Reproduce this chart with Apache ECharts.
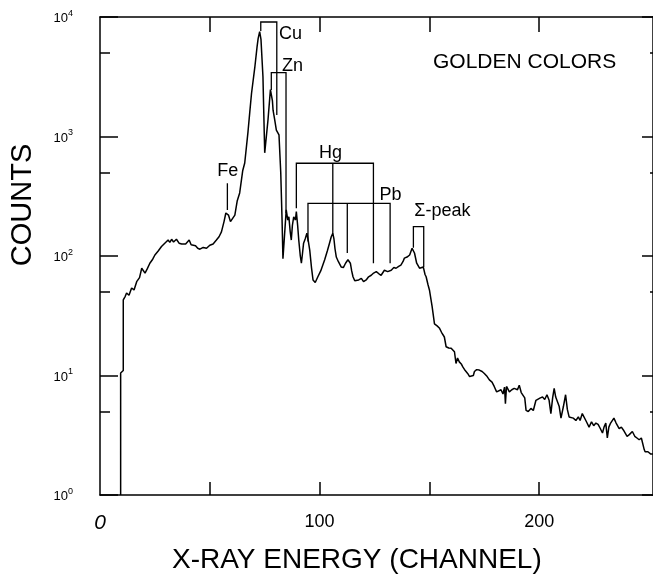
<!DOCTYPE html>
<html><head><meta charset="utf-8">
<script src="https://cdn.jsdelivr.net/npm/echarts@6/dist/echarts.min.js"></script>
<style>html,body{margin:0;padding:0;background:#fff}#c{width:653px;height:574px}</style>
</head><body><div id="c"></div><script>
// ---- spectrum data: [channel, counts] ----
const spectrumLow = [
 [9.4,1],[9.4,10.5],[10.6,11],[10.6,43],[11.5,46],[12.1,49],[13.2,47],[14.4,54],[15.5,52],[16.7,61],
 [18,66],[19,79],[20.5,72],[21.5,78],[22.7,87],[24,94],[25,102],[26.5,110],[28,120],[29.5,128],
 [31,136],[31.8,130],[32.6,138],[33.5,131],[34.8,138],[36,128],[37.2,126],[37.9,123],[39,126],[40.6,136],
 [41.5,124],[42.4,120],[43.5,122],[44.5,116],[45.5,114],[47,118],[48.5,116],[50,123],[51.5,126],[53,136],
 [54.2,145],[55.3,159],[56.5,195],[57.3,229],[57.8,235],[58.5,220],[59.4,194],[60.3,198]
];
const spectrumPeaks = [
 [61.4,220],[62.5,290],[63.6,337],[65,520],[65.9,600],[67.4,1100],[68.2,1600],[69,2300],[70.5,3800],[71.5,5600],
 [72,6600],[72.7,7550],[73.3,6500],[73.8,4350],[74.2,3160],[74.6,1500],[75,730],[75.6,740],[76.5,1380],[77.2,2000],
 [77.6,2470],[78,2560],[78.5,2000],[78.8,1660],[79.5,1400],[80.3,1130],[81.5,1030],[82.3,500],[82.9,200],[83.3,95],
 [83.8,95],[84.8,243],[85.5,200],[86,213],[86.6,160],[87.1,136],[87.6,180],[88.2,213],[89,200],[89.4,235],
 [90,180],[90.5,136],[91.2,100],[91.7,87],[92.2,105],[92.7,128],[93.5,140],[94.2,155],[94.8,135],[95.5,112],
 [96.3,80],[97,63],[98,60],[99.2,67]
];
const spectrumMid = [
 [100.5,75],[102.3,93],[103.5,110],[104.5,128],[105.3,145],[106,155],[106.5,140],[107,115],[107.6,98],[108.5,90],
 [109.8,81],[110.8,80],[111.8,87],[112.9,93],[113.5,95],[114,87],[114.6,75],[115.2,67],[116,62],[116.7,61],
 [117.8,63],[119,65],[120,61],[121.2,63],[122.3,67],[123.5,69],[124.6,72],[125.8,74],[127,71],[128,69],
 [129.5,76],[131,74],[132.6,76],[133.8,80],[134.8,79],[136,82],[137,84],[138,90],[138.6,96],[139.8,98],
 [141,102],[142.1,116],[142.7,117],[143.2,106],[144.2,87],[145.5,79],[146.3,78],[147.2,81],[148,70],[148.5,67],
 [149.3,58],[150,52]
];
const spectrumTail = [
 [151.2,38],[152.3,27],[153.5,26],[154.5,25],[155.5,23],[156.8,21],[157.6,17.4],[158.8,17],[159.9,16.9],[161.4,15.8],
 [162.1,12.6],[162.8,14],[163.6,13],[164.5,12.5],[165.2,11.8],[166.3,11],[167.4,10.4],[168.3,9.8],[169,9.5],[170,10],
 [170.5,10.8],[171.5,11.2],[172.7,11.1],[174,10.8],[175,10.4],[176.3,9.8],[177.3,9.2],[178.5,8.8],[179.5,8.1],[180.6,7.3],
 [181.5,7.5],[182.6,7.6],[183.5,7.0],[184.2,8.0],[184.6,5.8],[185.1,8.1],[186.4,7.3],[187.5,7.6],[188.6,7.8],[189.4,8.1],
 [190.1,7.6],[190.9,8.3],[191.8,7.2],[192.6,7.1],[193.4,6.5],[194,5.1],[195,5.0],[196.2,5.3],[197.3,5.1],[198.5,6.2],
 [199.2,6.4],[200.5,6.5],[201.5,6.6],[202.5,6.3],[203.5,6.9],[204.5,6.2],[205.3,4.8],[206.1,6.5],[206.8,7.8],[207.5,6.6],
 [208.3,6.6],[209.1,5.5],[209.9,4.4],[211,5.5],[212,6.9],[212.8,5.2],[213.6,4.5],[214.5,4.6],[215.5,4.4],[216.7,4.2],
 [217.8,4.5],[218.6,4.2],[219.6,4.8],[220.5,4.7],[221.5,4.1],[222.7,3.7],[223.8,4.1],[224.8,3.8],[225.8,4.0],[226.8,3.9],
 [227.8,3.6],[228.8,3.3],[229.5,3.7],[230.3,4.0],[231,3.0],[231.7,3.7],[232.5,4.0],[234,4.4],[235,4.0],[236.4,3.6],
 [237.4,3.7],[238.3,3.5],[239.2,3.4],[240,3.1],[241,3.2],[242.4,3.4],[243.5,3.1],[244.5,3.0],[245.5,2.9],[246.5,3.0],
 [247.3,3.0],[247.8,2.4],[248.2,2.3],[249.5,2.3],[250.8,2.2],[251.8,2.2]
];

// ---- peak annotations (data coordinates) ----
const bracketNames = ['Cu','Zn','Hg','Pb','Σ-peak'];
const bracketTops  = [9080, 3420, 597, 276, 176];
const bracketLines = [
 [[73.2,7640],[80.5,1515]],
 [[78.0,2450],[84.7,229]],
 [[89.4,251],[106.0,155],[124.5,87]],
 [[94.7,132],[112.6,106],[132.1,87]],
 [[142.7,117],[147.4,81]]
];
const feLine = [[58.0,243],[58.0,407]];

const labelNames = ['Fe','Cu','Zn','Hg','Pb','Σ-peak'];
const labelX = [58.2, 86.8, 87.7, 105, 132.3, 155.9];
const labelY = [514, 7210, 3890, 728, 324, 238];

// ---- axes ----
const yTickValues = [1,10,100,1000,10000];
const yMinorValues = [5,50,500,5000];
const xTickValues = [50,100,150,200];
const xLabelValues = [0,100,200];
const xMax = 251.8;

const spectrum = spectrumLow.concat(spectrumPeaks, spectrumMid, spectrumTail);

const paths = [];
bracketLines.forEach((ls, i) => {
  const top = bracketTops[i];
  const first = ls[0], last = ls[ls.length-1];
  paths.push([[first[0], first[1]], [first[0], top], [last[0], top], [last[0], last[1]]]);
  for (let k = 1; k < ls.length-1; k++) paths.push([[ls[k][0], top], [ls[k][0], ls[k][1]]]);
});
paths.push(feLine);

const labelData = labelNames.map((n,i)=>[labelX[i], labelY[i], n]);

const FONT = '"Liberation Sans", Arial, sans-serif';
const black = '#000';
const lineSt = {color: black, width: 1.5};

function yAxisBase(pos, tickVals, len, showLine, showLabel){
  return {
    type:'log', logBase:10, min:1, max:10000, position:pos,
    axisLine:{show:showLine, lineStyle:lineSt},
    axisTick:{show:true, inside:true, length:len, customValues:tickVals, lineStyle:lineSt},
    axisLabel:{show:showLabel, customValues:yTickValues, margin:27, color:black, fontFamily:FONT,
      formatter: v => '{b|10}{s|' + Math.round(Math.log10(v)) + '}',
      rich:{
        b:{fontSize:13, lineHeight:16, verticalAlign:'bottom', fontFamily:FONT, color:black},
        s:{fontSize:9, lineHeight:9, verticalAlign:'top', fontFamily:FONT, color:black}
      }},
    splitLine:{show:false}, minorTick:{show:false}
  };
}

const chart = echarts.init(document.getElementById('c'), null, {renderer:'canvas'});
chart.setOption({
  animation:false,
  backgroundColor:'#fff',
  grid:{left:100, top:17, width:554, height:478, containLabel:false},
  xAxis:[
    {type:'value', position:'bottom', min:0, max:xMax, interval:50,
     axisLine:{show:true, onZero:false, lineStyle:lineSt},
     axisTick:{show:true, inside:true, length:13, customValues:xTickValues, lineStyle:lineSt},
     axisLabel:{show:true, margin:18, customValues:xLabelValues, color:black, fontFamily:FONT,
       formatter: v => v===0 ? '{z|0}' : '{n|'+v+'}',
       rich:{z:{fontSize:21, fontStyle:'italic', fontFamily:FONT, color:black},
             n:{fontSize:18, fontFamily:FONT, color:black}}},
     splitLine:{show:false}},
    {type:'value', position:'top', min:0, max:xMax, interval:50,
     axisLine:{show:true, onZero:false, lineStyle:lineSt},
     axisTick:{show:true, inside:true, length:15, customValues:xTickValues, lineStyle:lineSt},
     axisLabel:{show:false}, splitLine:{show:false}}
  ],
  yAxis:[
    yAxisBase('left', yTickValues, 18, true, true),
    yAxisBase('left', yMinorValues, 10, false, false),
    yAxisBase('right', yTickValues, 11, true, false),
    yAxisBase('right', yMinorValues, 3, false, false)
  ],
  series:[
    {type:'line', xAxisIndex:0, yAxisIndex:0, data:spectrum, symbol:'none', silent:true,
     lineStyle:{color:black, width:1.5}, z:3},
    {type:'lines', coordinateSystem:'cartesian2d', xAxisIndex:0, yAxisIndex:0, polyline:true, silent:true,
     data: paths.map(p => ({coords:p})), lineStyle:{color:black, width:1.3, opacity:1}, z:4},
    {type:'scatter', xAxisIndex:0, yAxisIndex:0, data:labelData, symbolSize:0, silent:true,
     itemStyle:{color:black, opacity:1},
     label:{show:true, position:'inside', formatter:p=>p.data[2], color:black, opacity:1, fontSize:18, fontFamily:FONT,
       textBorderWidth:0, textBorderColor:'transparent'}, z:5}
  ],
  graphic:[
    {type:'text', left:172, top:546, style:{text:'X-RAY ENERGY (CHANNEL)', font:'28px "Liberation Sans", Arial, sans-serif', fill:black}},
    {type:'text', x:23, y:205, rotation:Math.PI/2, style:{text:'COUNTS', font:'29px "Liberation Sans", Arial, sans-serif', fill:black, align:'center', verticalAlign:'middle'}},
    {type:'text', left:433, top:52, style:{text:'GOLDEN COLORS', font:'21px "Liberation Sans", Arial, sans-serif', fill:black}}
  ]
});
</script></body></html>
